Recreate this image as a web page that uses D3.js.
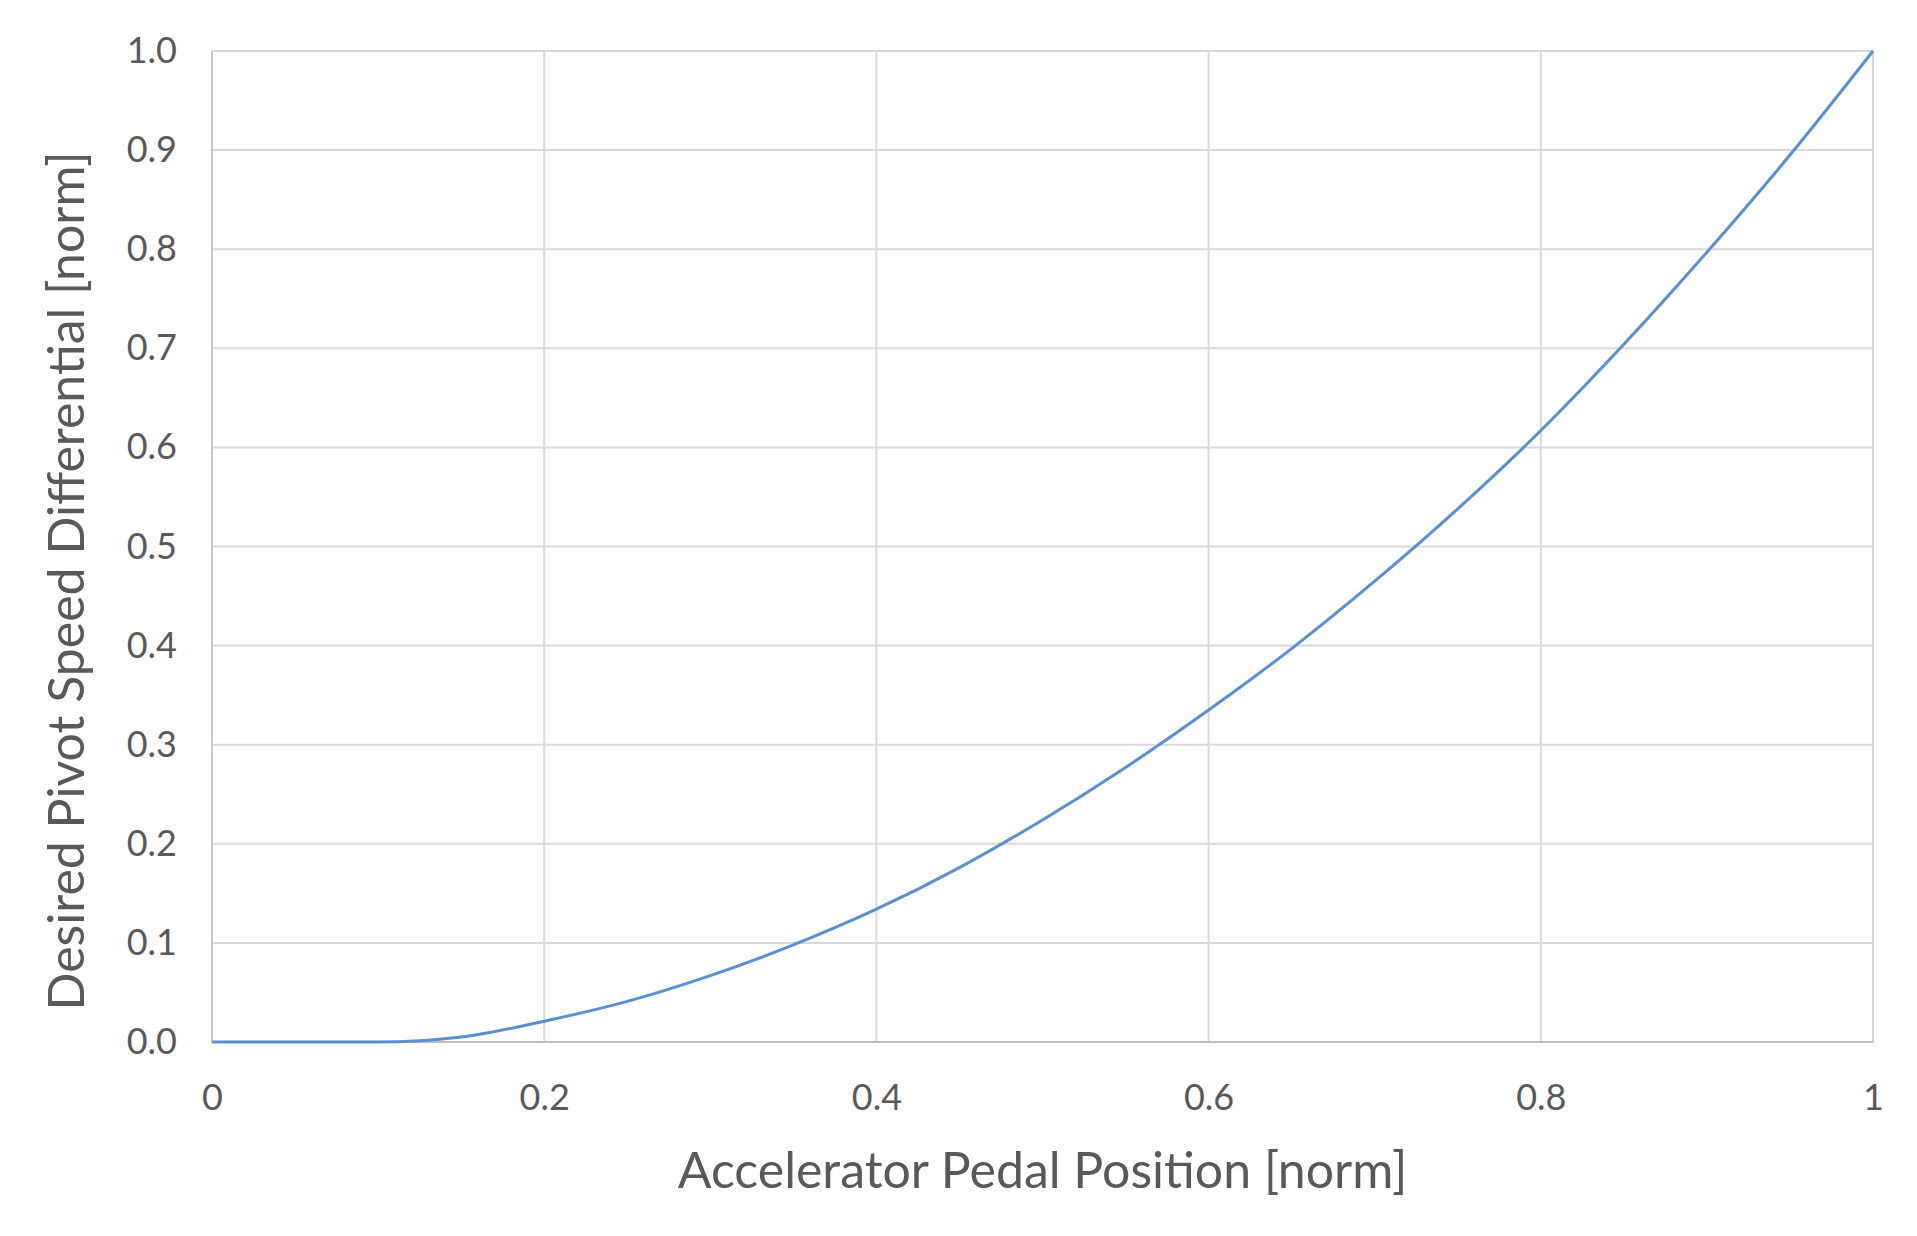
<!DOCTYPE html>
<html>
<head>
<meta charset="utf-8">
<script src="https://cdn.jsdelivr.net/npm/d3@7"></script>
<style>
  body { margin: 0; background: #fff; }
  .tick text { font-family: Lato, "Open Sans", sans-serif; fill: #595959; }
  .title { font-family: Lato, "Open Sans", sans-serif; fill: #595959; }
</style>
</head>
<body>
<div id="chart"></div>
<script>
// pedal position (x) and pivot speed differential (y)
var pedal = [0, 0.05, 0.1, 0.15, 0.2, 0.25, 0.3, 0.35, 0.4, 0.45, 0.5,
             0.55, 0.6, 0.65, 0.7, 0.75, 0.8, 0.85, 0.9, 0.95, 1.0];
var pivot = [0, 0, 0, 0.005, 0.021, 0.041, 0.067, 0.098, 0.134, 0.176, 0.224,
             0.277, 0.335, 0.397, 0.465, 0.538, 0.617, 0.704, 0.797, 0.895, 1.0];

var xTicks = [0, 0.2, 0.4, 0.6, 0.8, 1];
var xTickLabels = ["0", "0.2", "0.4", "0.6", "0.8", "1"];
var yTicks = [0, 0.1, 0.2, 0.3, 0.4, 0.5, 0.6, 0.7, 0.8, 0.9, 1.0];

var xTitle = "Accelerator Pedal Position [norm]";
var yTitle = "Desired Pivot Speed Differential [norm]";

var margin = {top: 51, right: 44, bottom: 194, left: 212},
    width = 1917 - margin.left - margin.right,
    height = 1236 - margin.top - margin.bottom;

var x = d3.scaleLinear().domain([0, 1]).range([0, width]);
var y = d3.scaleLinear().domain([0, 1]).range([height, 0]);

var data = pedal.map(function(d, i) { return {p: d, v: pivot[i]}; });

var svg = d3.select("#chart").append("svg")
    .attr("width", 1917)
    .attr("height", 1236)
  .append("g")
    .attr("transform", "translate(" + margin.left + "," + margin.top + ")");

// horizontal gridlines
svg.append("g")
    .selectAll("line")
    .data(yTicks.slice(1))
    .enter().append("line")
    .attr("x1", 0).attr("x2", width)
    .attr("y1", function(d) { return y(d); })
    .attr("y2", function(d) { return y(d); })
    .attr("stroke", "#d9d9d9")
    .attr("stroke-width", 2);

// vertical gridlines
svg.append("g")
    .selectAll("line")
    .data(xTicks)
    .enter().append("line")
    .attr("x1", function(d) { return x(d); })
    .attr("x2", function(d) { return x(d); })
    .attr("y1", 0).attr("y2", height)
    .attr("stroke", function(d) { return d === 0 ? "#c8c8c8" : "#d9d9d9"; })
    .attr("stroke-width", 2);

// bottom axis line
svg.append("line")
    .attr("x1", 0).attr("x2", width)
    .attr("y1", height).attr("y2", height)
    .attr("stroke", "#bfbfbf")
    .attr("stroke-width", 2);

var xAxis = svg.append("g")
    .attr("transform", "translate(0," + height + ")")
    .call(d3.axisBottom(x)
      .tickValues(xTicks)
      .tickFormat(function(d, i) { return xTickLabels[i]; })
      .tickSize(0)
      .tickPadding(42));
xAxis.select(".domain").remove();
xAxis.selectAll("text").style("font-size", "36px");

var yAxis = svg.append("g")
    .call(d3.axisLeft(y)
      .tickValues(yTicks)
      .tickFormat(d3.format(".1f"))
      .tickSize(0)
      .tickPadding(35));
yAxis.select(".domain").remove();
yAxis.selectAll("text").style("font-size", "36px");

var line = d3.line()
    .x(function(d) { return x(d.p); })
    .y(function(d) { return y(d.v); })
    .curve(d3.curveMonotoneX);

svg.append("path")
    .datum(data)
    .attr("fill", "none")
    .attr("stroke", "#5b8fcf")
    .attr("stroke-width", 3)
    .attr("d", line);

svg.append("text")
    .attr("class", "title")
    .attr("x", width / 2)
    .attr("y", 1188 - margin.top)
    .attr("text-anchor", "middle")
    .style("font-size", "50px")
    .text(xTitle);

svg.append("text")
    .attr("class", "title")
    .attr("transform", "translate(" + (84 - margin.left) + "," + (581 - margin.top) + ") rotate(-90)")
    .attr("text-anchor", "middle")
    .style("font-size", "50px")
    .text(yTitle);
</script>
</body>
</html>
